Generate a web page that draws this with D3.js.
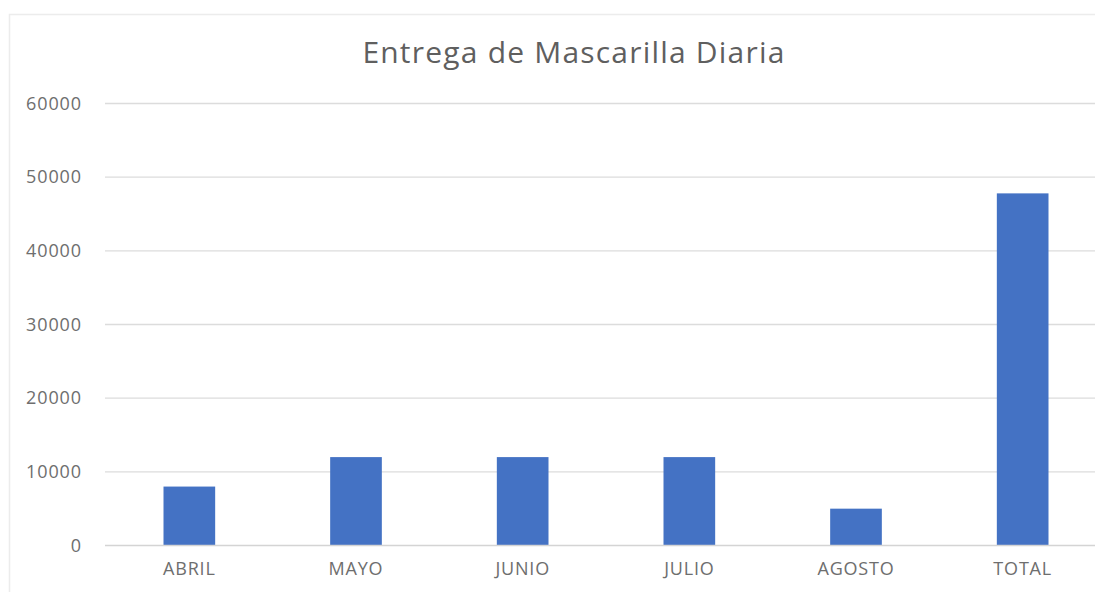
<!DOCTYPE html>
<html><head><meta charset="utf-8">
<script src="https://cdn.jsdelivr.net/npm/d3@7"></script>
<style>html,body{margin:0;padding:0;background:#fff;overflow:hidden}</style>
</head><body>
<svg id="c" width="1095" height="592"></svg>
<script>
const categories = ["ABRIL","MAYO","JUNIO","JULIO","AGOSTO","TOTAL"];
const values = [8000,12000,12000,12000,5000,47800];
const yTicks = [0,10000,20000,30000,40000,50000,60000];
const title = "Entrega de Mascarilla Diaria";

const svg = d3.select("#c");
const font = "'Open Sans', 'Liberation Sans', sans-serif";

// faint chart-area border
svg.append("path").attr("d","M9.5,600 V14.5 H1100").attr("fill","none").attr("stroke","#ececec").attr("stroke-width",1.5);

const y = d3.scaleLinear().domain([0,60000]).range([545.5,103.5]);
const x = d3.scaleBand().domain(categories).range([106,1106]).paddingInner(0.69).paddingOuter(0.345);

const yAxis = d3.axisLeft(y).tickValues(yTicks).tickSize(0).tickPadding(23).tickFormat(d3.format("d"));
const gy = svg.append("g").attr("transform","translate(105,0)").call(yAxis);
gy.select(".domain").remove();
gy.selectAll("text").attr("fill","#6e6e6e").style("font-family",font).style("font-size","18px").attr("letter-spacing","0.9px");

svg.append("g").selectAll("line").data(yTicks.filter(d=>d>0)).join("line")
  .attr("x1",105).attr("x2",1100).attr("y1",d=>y(d)).attr("y2",d=>y(d))
  .attr("stroke","#dcdcdc").attr("stroke-width",1.3);

svg.append("g").selectAll("rect").data(values).join("rect")
  .attr("x",(d,i)=>x(categories[i])).attr("width",x.bandwidth())
  .attr("y",d=>y(d)).attr("height",d=>y(0)-y(d)).attr("fill","#4472C4");

svg.append("line").attr("x1",105).attr("x2",1100).attr("y1",y(0)).attr("y2",y(0)).attr("stroke","#d4d4d4").attr("stroke-width",1.3);

const xAxis = d3.axisBottom(x).tickSize(0).tickPadding(17);
const gx = svg.append("g").attr("transform",`translate(0,${y(0)})`).call(xAxis);
gx.select(".domain").remove();
gx.selectAll("text").attr("fill","#6e6e6e").style("font-family",font).style("font-size","18px").attr("letter-spacing","0.8px");

svg.append("text").attr("x",574).attr("y",63).attr("text-anchor","middle")
  .attr("fill","#5f5f5f").style("font-family",font).style("font-size","30px").attr("letter-spacing","1.2px").text(title);
</script>
</body></html>
